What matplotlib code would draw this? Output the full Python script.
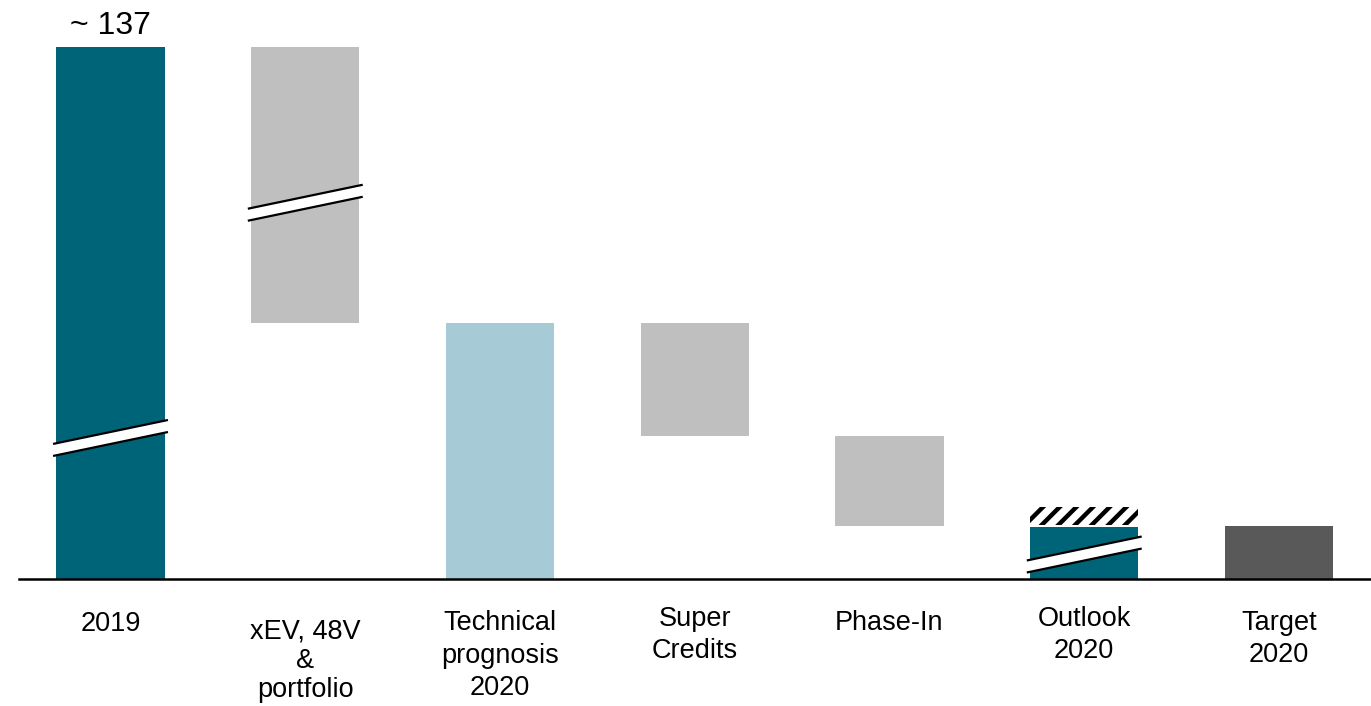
import matplotlib
matplotlib.use("Agg")
import matplotlib.pyplot as plt
from matplotlib.patches import Polygon

# ---- data (display units; chart uses broken bars) ----
categories = ["2019", "xEV, 48V\n&\nportfolio", "Technical\nprognosis\n2020",
              "Super\nCredits", "Phase-In", "Outlook\n2020", "Target\n2020"]
bar_bottoms = [0, 48.1, 0, 26.9, 10.0, 0, 0]
bar_tops = [100, 100, 48.1, 48.1, 26.9, 9.8, 10.0]
bar_colors = ["#006478", "#bfbfbf", "#a7cad7", "#bfbfbf", "#bfbfbf", "#006478", "#595959"]
top_label = "~ 137"
# range band on the outlook bar (hatched)
range_low = 10.15
range_high = 13.5
# axis-break positions: (bar index, y centre)
break_bars = [0, 1, 5]
break_centres = [26.5, 70.7, 4.6]
# label vertical centres (data units below baseline)
label_y = [-8.4, -15.4, -14.4, -10.5, -8.2, -10.5, -11.2]
label_spacing = [1.2, 1.16, 1.32, 1.3, 1.2, 1.3, 1.3]

plt.rcParams['font.family'] = ['Liberation Sans', 'DejaVu Sans']
plt.rcParams['hatch.linewidth'] = 3.2

fig = plt.figure(figsize=(13.71, 7.06), dpi=100)
ax = fig.add_axes([19 / 1371, 1 - 579 / 706, 1 - 19 / 1371, 579 / 706])
ax.set_xlim(-0.470, 6.4725)
ax.set_ylim(0, 108.8)
ax.axis("off")

width = 0.555
x = list(range(len(categories)))
heights = [t - b for t, b in zip(bar_tops, bar_bottoms)]
ax.bar(x, heights, bottom=bar_bottoms, width=width, color=bar_colors, linewidth=0, zorder=2)

# hatched range on outlook
ax.bar([5], [range_high - range_low], bottom=[range_low], width=width,
       color="white", edgecolor="black", hatch="//", linewidth=0, zorder=2)

# baseline
ax.axhline(0, color="black", linewidth=1.8, zorder=3, clip_on=False)

# break marks
hw = 0.295
slope = 7.63
thick = 2.26
for bi, yc in zip(break_bars, break_centres):
    xl, xr = bi - hw, bi + hw
    yl, yr = yc - slope * hw, yc + slope * hw
    poly = Polygon([(xl, yl - thick / 2), (xr, yr - thick / 2),
                    (xr, yr + thick / 2), (xl, yl + thick / 2)],
                   closed=True, facecolor="white", edgecolor="none", zorder=4)
    ax.add_patch(poly)
    ax.plot([xl, xr], [yl + thick / 2, yr + thick / 2], color="black", lw=1.6,
            zorder=5, solid_capstyle="butt")
    ax.plot([xl, xr], [yl - thick / 2, yr - thick / 2], color="black", lw=1.6,
            zorder=5, solid_capstyle="butt")

# top label
ax.text(0, 103.9, top_label, ha="center", va="center", fontsize=23, clip_on=False)

# category labels
for xi, lab, yy, ls in zip(x, categories, label_y, label_spacing):
    ax.text(xi, yy, lab, ha="center", va="center", multialignment="center",
            fontsize=19.5, linespacing=ls, clip_on=False)

fig.savefig("out.png", dpi=100)
